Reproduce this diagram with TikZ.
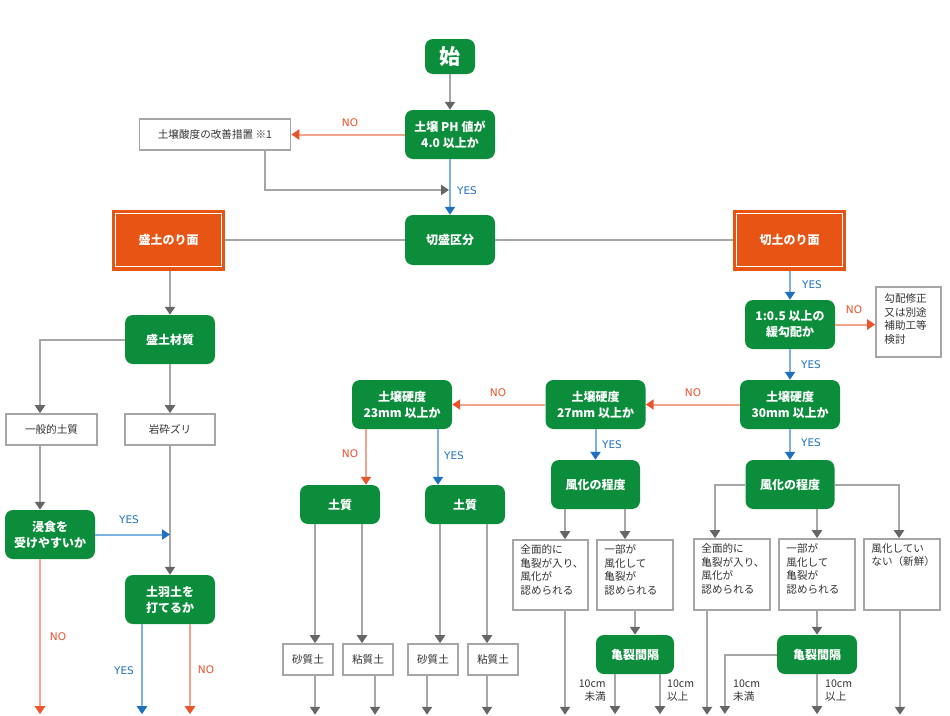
\documentclass[tikz,border=0pt]{standalone}
\usepackage{fontspec}
\setmainfont{Noto Sans CJK JP}
\newfontfamily\latfont{DejaVu Sans}
\usetikzlibrary{arrows.meta}
\definecolor{gr}{HTML}{0B8D3B}
\definecolor{org}{HTML}{E85414}
\definecolor{redln}{HTML}{F4A38D}
\definecolor{redtip}{HTML}{E8542C}
\definecolor{blueln}{HTML}{7DB1E1}
\definecolor{bluetip}{HTML}{1E70C0}
\definecolor{grayln}{HTML}{A6A6A6}
\definecolor{graytip}{HTML}{666666}
\definecolor{txt}{HTML}{333333}
\tikzset{
  gbox/.style={fill=gr, rounded corners=8pt, text=white, align=center, inner sep=0pt,
    font=\bfseries\fontsize{12}{16}\selectfont},
  obox/.style={fill=org, text=white, align=center, inner sep=0pt, minimum width=113pt, minimum height=61pt,
    font=\bfseries\fontsize{12}{16}\selectfont},
  wbox/.style={draw=grayln, line width=1.6pt, fill=white, text=txt, inner sep=0pt, align=center,
    font=\fontsize{10.6}{13.7}\selectfont},
  wtext/.style={anchor=north west, inner sep=0pt, text=txt, align=left, font=\fontsize{10.6}{13.7}\selectfont},
  sz/.style 2 args={minimum width=#1pt, minimum height=#2pt},
  gline/.style={draw=grayln, line width=2pt},
  garr/.style={gline, -{Triangle[width=10pt,length=8pt,color=graytip]}},
  rarr/.style={draw=redln, line width=2pt, -{Triangle[width=10pt,length=8pt,color=redtip]}},
  barr/.style={draw=blueln, line width=2pt, -{Triangle[width=10pt,length=8pt,color=bluetip]}},
  yeslab/.style={text=bluetip, font=\latfont\fontsize{10.5}{12}\selectfont, inner sep=0pt},
  nolab/.style={text=redtip, font=\latfont\fontsize{10.5}{12}\selectfont, inner sep=0pt},
  cmlab/.style={text=txt, font=\fontsize{10.6}{13}\selectfont, inner sep=0pt},
}
\begin{document}
\begin{tikzpicture}[x=1pt,y=-1pt]
\useasboundingbox (0,0) rectangle (950,715);
% top
\node[gbox, sz={50}{35}, font=\bfseries\fontsize{21}{24}\selectfont] (start) at (450,56.5) {始};
\node[gbox, sz={90}{49}] (ph) at (450,134.5) {土壌 PH 値が\\4.0 以上か};
\node[wbox, sz={151}{31}] (acid) at (215,134.5) {土壌酸度の改善措置 ※1};
\node[gbox, sz={90}{50}] (kiri) at (450,240) {切盛区分};
\node[obox] (mori) at (168.5,240) {盛土のり面};
\node[obox] (cut) at (789.5,240) {切土のり面};
\draw[white, line width=1.1pt] ([shift={(4pt,-4pt)}]mori.north west) rectangle ([shift={(-4pt,4pt)}]mori.south east);
\draw[white, line width=1.1pt] ([shift={(4pt,-4pt)}]cut.north west) rectangle ([shift={(-4pt,4pt)}]cut.south east);
\coordinate (j1) at (449,190);
% left branch
\node[gbox, sz={90}{49}] (moriMat) at (170,339.5) {盛土材質};
\node[wbox, sz={91}{31}] (ippan) at (51.5,429.5) {一般的土質};
\node[wbox, sz={90}{31}] (gansai) at (170,429.5) {岩砕ズリ};
\node[gbox, sz={90}{49}] (shinshoku) at (50,534.5) {浸食を\\受けやすいか};
\node[gbox, sz={90}{49}] (dohado) at (170,599.5) {土羽土を\\打てるか};
% right / middle
\node[gbox, sz={90}{49}] (slope) at (790,324.5) {1:0.5 以上の\\緩勾配か};
\node[wbox, sz={65}{70}] (kobai) at (908.5,322) {};
\node[wtext] (kobait) at ([shift={(9pt,-7pt)}]kobai.north west) {勾配修正\\又は別途\\補助工等\\検討};
\node[gbox, sz={100}{49}] (h30) at (790,404.5) {土壌硬度\\30mm 以上か};
\node[gbox, sz={100}{49}] (h27) at (595.5,404.5) {土壌硬度\\27mm 以上か};
\node[gbox, sz={100}{49}] (h23) at (402,404.5) {土壌硬度\\23mm 以上か};
\node[gbox, sz={80}{39}] (soilL) at (340,504.5) {土質};
\node[gbox, sz={80}{39}] (soilR) at (465,504.5) {土質};
\node[wbox, sz={50}{31}] (sand1) at (308,659.5) {砂質土};
\node[wbox, sz={50}{31}] (clay1) at (368,659.5) {粘質土};
\node[wbox, sz={50}{31}] (sand2) at (433,659.5) {砂質土};
\node[wbox, sz={50}{31}] (clay2) at (493,659.5) {粘質土};
\node[gbox, sz={89}{49}] (fuuM) at (595.5,484.5) {風化の程度};
\node[wbox, sz={75}{70}] (zenM) at (550.5,575) {};
\node[wtext] (zenMt) at ([shift={(8pt,-5pt)}]zenM.north west) {全面的に\\亀裂が入り、\\風化が\\認められる};
\node[wbox, sz={76}{70}] (ichiM) at (635,575) {};
\node[wtext] (ichiMt) at ([shift={(8pt,-5pt)}]ichiM.north west) {一部が\\風化して\\亀裂が\\認められる};
\node[gbox, sz={78}{39}] (kiM) at (635,654.5) {亀裂間隔};
\node[gbox, sz={89}{49}] (fuuR) at (790,484.5) {風化の程度};
\node[wbox, sz={76}{71}] (zenR) at (732,574.5) {};
\node[wtext] (zenRt) at ([shift={(8pt,-5pt)}]zenR.north west) {全面的に\\亀裂が入り、\\風化が\\認められる};
\node[wbox, sz={76}{71}] (ichiR) at (817,574.5) {};
\node[wtext] (ichiRt) at ([shift={(8pt,-5pt)}]ichiR.north west) {一部が\\風化して\\亀裂が\\認められる};
\node[wbox, sz={76}{71}] (noneR) at (902,574.5) {};
\node[wtext] (noneRt) at ([shift={(8pt,-5pt)}]noneR.north west) {風化してい\\ない（新鮮）};
\node[gbox, sz={80}{39}] (kiR) at (817,654.5) {亀裂間隔};
% connectors top
\draw[garr] (start) -- (ph);
\draw[rarr] (ph.west) -- (acid.east);
\draw[garr] ([xshift=50pt]acid.south) |- (j1);
\draw[barr] (ph) -- (kiri);
\draw[gline] (mori.east) -- (kiri.west);
\draw[gline] (kiri.east) -- (cut.west);
% left connectors
\draw[garr] (mori.south -| moriMat.north) -- (moriMat.north);
\draw[garr] (moriMat.west) -| ([xshift=-11.5pt]ippan.north);
\draw[garr] (moriMat) -- (gansai);
\draw[garr] ([xshift=-11.5pt]ippan.south) -- ([xshift=-10pt]shinshoku.north);
\draw[garr] (gansai) -- (dohado);
\draw[barr] (shinshoku.east) -- (shinshoku.east -| gansai.south);
\draw[rarr] ([xshift=-10pt]shinshoku.south) -- ++(0,155);
\draw[barr] ([xshift=-28pt]dohado.south) -- ++(0,90);
\draw[rarr] ([xshift=20pt]dohado.south) -- ++(0,90);
% right connectors
\draw[barr] (cut.south -| slope.north) -- (slope.north);
\draw[rarr] (slope.east) -- (slope.east -| kobai.west);
\draw[barr] (slope) -- (h30);
\draw[rarr] (h30.west) -- (h27.east);
\draw[rarr] (h27.west) -- (h23.east);
\draw[rarr] ([xshift=-36pt]h23.south) -- ([xshift=26pt]soilL.north);
\draw[barr] ([xshift=36pt]h23.south) -- ([xshift=-27pt]soilR.north);
\draw[garr] ([xshift=-25pt]soilL.south) -- ([xshift=7pt]sand1.north);
\draw[garr] ([xshift=22pt]soilL.south) -- ([xshift=-6pt]clay1.north);
\draw[garr] ([xshift=-25pt]soilR.south) -- ([xshift=7pt]sand2.north);
\draw[garr] ([xshift=22pt]soilR.south) -- ([xshift=-6pt]clay2.north);
\draw[garr] ([xshift=7pt]sand1.south) -- ++(0,39);
\draw[garr] ([xshift=7pt]clay1.south) -- ++(0,39);
\draw[garr] ([xshift=-6pt]sand2.south) -- ++(0,39);
\draw[garr] ([xshift=-6pt]clay2.south) -- ++(0,39);
\draw[barr] (h27) -- (fuuM);
\draw[garr] ([xshift=-30.5pt]fuuM.south) -- ([xshift=14.5pt]zenM.north);
\draw[garr] ([xshift=29.5pt]fuuM.south) -- ([xshift=-10pt]ichiM.north);
\draw[garr] ([xshift=14.5pt]zenM.south) -- ++(0,104);
\draw[garr] (ichiM) -- (kiM);
\draw[garr] ([xshift=-20pt]kiM.south) -- ++(0,40);
\draw[garr] ([xshift=25pt]kiM.south) -- ++(0,40);
\draw[barr] (h30) -- (fuuR);
\draw[garr] (fuuR.west) -| ([xshift=-17pt]zenR.north);
\draw[garr] (fuuR.south -| ichiR.north) -- (ichiR.north);
\draw[garr] (fuuR.east) -| ([xshift=-3pt]noneR.north);
\draw[garr] ([xshift=-25pt]zenR.south) -- ++(0,104);
\draw[garr] (ichiR) -- (kiR);
\draw[garr] (kiR.west) -| ++(-52,59.5);
\draw[garr] (kiR.south) -- ++(0,40);
\draw[garr] ([xshift=-2pt]noneR.south) -- ++(0,104);
% labels
\node[nolab] (l1) at (350,123) {NO};
\node[yeslab] (l2) at (467,191) {YES};
\node[yeslab] (l3) at (129,520) {YES};
\node[nolab] (l4) at (58,637) {NO};
\node[yeslab] (l5) at (124,671) {YES};
\node[nolab] (l6) at (206,670) {NO};
\node[yeslab] (l7) at (812,285) {YES};
\node[nolab] (l8) at (854,310) {NO};
\node[yeslab] (l9) at (811,365) {YES};
\node[nolab] (l10) at (693,393) {NO};
\node[nolab] (l11) at (498,393) {NO};
\node[nolab] (l12) at (350,454) {NO};
\node[yeslab] (l13) at (454,456) {YES};
\node[yeslab] (l14) at (612,445) {YES};
\node[yeslab] (l15) at (811,443) {YES};
\node[cmlab, anchor=east, align=right] (c1) at (606,690.5) {10cm\\未満};
\node[cmlab, anchor=west, align=left] (c2) at (667,690.5) {10cm\\以上};
\node[cmlab, anchor=west, align=left] (c3) at (733,690.5) {10cm\\未満};
\node[cmlab, anchor=west, align=left] (c4) at (825,690.5) {10cm\\以上};
\end{tikzpicture}
\end{document}
